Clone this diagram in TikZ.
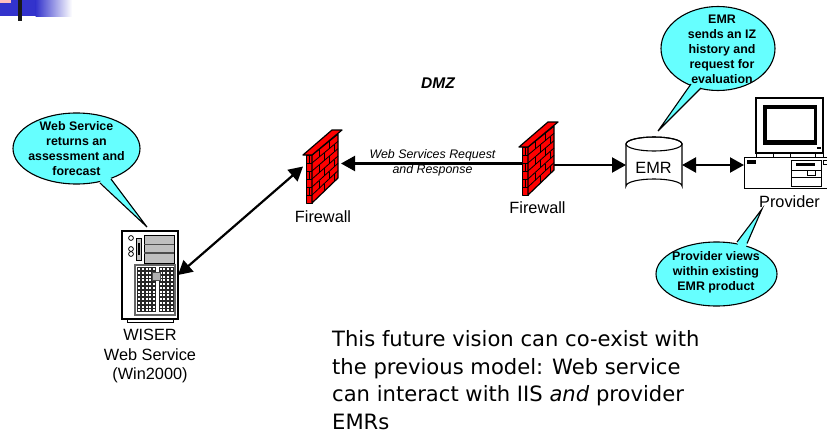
\documentclass[tikz,border=0pt]{standalone}
\usepackage{fontspec}
\setmainfont{Liberation Sans}
\newfontfamily\lowerfont{DejaVu Sans}
\usetikzlibrary{arrows.meta,shapes.geometric}
\definecolor{callcyan}{RGB}{102,255,255}
\definecolor{brickred}{RGB}{255,0,0}
\definecolor{headblue}{RGB}{51,51,204}
\tikzset{
  x=1pt,y=-1pt,
  biarrow/.style={line width=2.2pt,{Triangle[length=14pt,width=15pt]}-{Triangle[length=14pt,width=15pt]}},
  onearrow/.style={line width=2.2pt,-{Triangle[length=14pt,width=15pt]}},
  halo/.style={inner sep=0pt,outer sep=0pt,rectangle},
  callout/.style={ellipse,draw=black,fill=callcyan,line width=1.1pt,inner sep=0pt,outer sep=0pt,align=center},
  calltext/.style={font=\fontsize{12.4}{15}\bfseries\selectfont,align=center,inner sep=0pt},
  tail/.style={fill=callcyan,draw=none},
  tailedge/.style={draw=black,line width=1.1pt,line join=miter},
  lab/.style={font=\fontsize{16.3}{19.5}\selectfont,align=center,inner sep=0pt},
  wall/.pic={
    \fill[brickred,draw=black,line width=1pt,line join=round] (0,0) -- (6,0) -- (6,48) -- (0,48) -- cycle;
    \fill[brickred,draw=black,line width=1.2pt,line join=round] (6,0) -- (32,-21) -- (32,23) -- (6,48) -- cycle;
    \foreach \r in {1,...,5} {
      \draw[line width=.8pt] (0,{\r*8}) -- (6,{\r*8});
      \draw[line width=.8pt] (6,{\r*8}) -- (32,{-21+\r*44/6});
    }
    \foreach \r in {0,...,5} {
      \pgfmathsetmacro\rr{int(mod(\r,2))}
      \ifnum\rr=0
        \def\cols{13,23}
      \else
        \def\cols{18,28}
      \fi
      \foreach \c in \cols {
        \pgfmathsetmacro\tp{-(\c-6)*.81}
        \pgfmathsetmacro\bt{48-(\c-6)*.96}
        \pgfmathsetmacro\ya{\tp+\r/6*(\bt-\tp)}
        \pgfmathsetmacro\yb{\tp+(\r+1)/6*(\bt-\tp)}
        \draw[line width=.8pt] (\c,\ya) -- (\c,\yb);
      }
    }
    \draw[line width=.8pt] (3,0) -- (3,8) (3,16) -- (3,24) (3,32) -- (3,40);
    \fill[brickred,draw=black,line width=1.2pt,line join=round] (-3,0) -- (26,-25) -- (36,-25) -- (6,0) -- cycle;
  }
}
\begin{document}
\begin{tikzpicture}
\useasboundingbox (0,0) rectangle (827,434);
\clip (0,0) rectangle (827,434);
% corner ornament
\fill[headblue] (0,0) rectangle (36,16);
\shade[left color=headblue,right color=white,shading angle=90] (35.5,0) rectangle (72,16);
\fill[red!25] (0,0) rectangle (11,3);
\fill[black!90] (18,0) rectangle (22,21);

% invisible holders for connector ends
\node[halo,minimum width=38pt,minimum height=73pt] (fwa) at (322,166.5) {};
\node[halo,minimum width=31pt,minimum height=66pt] (fwb) at (537.5,163.5) {};
\node[halo,minimum width=56pt,minimum height=56pt] (emr) at (654,165) {};
\node[halo,minimum width=83pt,minimum height=90pt] (pc) at (785.5,143) {};
\node[halo,minimum width=56pt,minimum height=88pt] (srv) at (150,275) {};

% connectors
\draw[biarrow] (srv.east) -- (fwa.west);
\draw[onearrow] (fwb.west) -- (fwb.west -| fwa.east);
\draw[onearrow] (emr.west -| fwb.east) -- (emr.west);
\draw[biarrow] (emr.east) -- (emr.east -| pc.west);

% firewalls
\pic at (306,155) {wall};
\pic at (522,147) {wall};

% EMR cylinder
\draw[fill=white,line width=1.1pt] (626,144) -- (626,186) arc[start angle=180,end angle=360,x radius=28,y radius=7]
  -- (682,144) arc[start angle=0,end angle=-180,x radius=28,y radius=7] -- cycle;
\draw[line width=1.1pt] (626,144) arc[start angle=180,end angle=360,x radius=28,y radius=-7];
\draw[line width=1.1pt] (626,144) arc[start angle=180,end angle=0,x radius=28,y radius=-7];
\node[lab] (emrtext) at (653.5,167.5) {EMR};

% computer
\draw[line width=1.1pt,fill=white] (756,98) rectangle (823,153);
\fill[black] (763,105) rectangle (817,145);
\fill[white] (767,109) rectangle (814,140);
\fill[black] (817,147) rectangle (821,149);
\draw[line width=.8pt,fill=white] (756,153) rectangle (823,157);
\draw[line width=.7pt] (773,153) -- (773,157) (790,153) -- (790,157) (815,153) -- (815,157);
\draw[line width=1pt,fill=white] (744,157) rectangle (827,188);
\fill[black] (747,160) rectangle (756,163.5);
\draw[line width=.7pt] (791,160) rectangle (821,186);
\draw[line width=.7pt] (791,170) -- (821,170) (791,177) -- (821,177);
\fill[black] (796,163) rectangle (815,165.5);
\draw[line width=.7pt] (807,170) rectangle (815,175);
\draw[line width=.7pt] (823,160) rectangle (827,164);

% server
\draw[line width=.8pt] (127,319) -- (127,322) -- (173,322) -- (173,319);
\draw[line width=1.2pt,fill=white] (122,231) rectangle (178,319);
\foreach \y in {238,249,254} \draw[line width=.8pt] (131,\y) circle[radius=2.4];
\draw[line width=.7pt,fill=black!25] (136,238) rectangle (141.5,260);
\fill[black] (138,243) rectangle (139.5,255);
\draw[line width=.8pt,fill=black!25] (144,235) rectangle (174,263);
\draw[line width=1.3pt,black!70] (144,244.5) -- (174,244.5) (144,253) -- (174,253);
\draw[line width=1.2pt,black!60,fill=white] (135,265) rectangle (175,315);
\foreach \i in {0,...,4} \foreach \j in {0,...,11}
  \draw[line width=.6pt,black!85] ({137.5+\i*3.7},{267.5+\j*3.75}) rectangle +(3,2.8);
\foreach \i in {0,...,3} \foreach \j in {0,...,11}
  \draw[line width=.6pt,black!85] ({159+\i*3.7},{267.5+\j*3.75}) rectangle +(3,2.8);
\draw[line width=.6pt,black!70,fill=black!30] (152,272) rectangle (160,280);

% callouts
\node[callout,minimum width=127pt,minimum height=71pt] (cleft) at (76.5,148.5) {};
\coordinate (cleftTip) at (147,227);
\fill[tail] (100,182) -- (cleftTip) -- (111,178) -- (105,172) -- cycle;
\draw[tailedge] (100,183) -- (cleftTip) -- (111,179);
\node[calltext] (cleftText) at (76.5,148.5) {Web Service\\returns an\\assessment and\\forecast};

\node[callout,minimum width=114pt,minimum height=84pt] (ctop) at (718,48.5) {};
\coordinate (ctopTip) at (658,131);
\fill[tail] (691,84) -- (ctopTip) -- (701,88) -- (702,78) -- cycle;
\draw[tailedge] (691,84) -- (ctopTip) -- (701,88);
\node[calltext] (ctopText) at (722,49) {EMR\\sends an IZ\\history and\\request for\\evaluation};

\node[callout,minimum width=121pt,minimum height=64pt] (cbot) at (716.5,274) {};
\coordinate (cbotTip) at (762,209);
\fill[tail] (737,243) -- (cbotTip) -- (747,245) -- (742,252) -- cycle;
\draw[tailedge] (737,242) -- (cbotTip) -- (747,243.5);
\node[calltext] (cbotText) at (716,272) {Provider views\\within existing\\EMR product};

% labels
\node[font=\fontsize{15.5}{18}\bfseries\itshape\selectfont,inner sep=0pt] (dmz) at (438,83) {DMZ};
\node[font=\fontsize{12.4}{15}\itshape\selectfont,align=center,inner sep=0pt] (ws) at (432.5,162.5) {Web Services Request\\and Response};
\node[lab] (fwaText) at (323,217) {Firewall};
\node[lab] (fwbText) at (537.5,208) {Firewall};
\node[lab] (provider) at (789.5,201.5) {Provider};
\node[lab] (wiser) at (150,356) {WISER\\Web Service\\(Win2000)};
\node[anchor=north west,inner sep=0pt,align=left,font=\lowerfont\fontsize{21.1}{27.8}\selectfont] (vision) at (332,330)
 {This future vision can co-exist with\\the previous model: Web service\\can interact with IIS \textit{and} provider\\EMRs};
\end{tikzpicture}
\end{document}
